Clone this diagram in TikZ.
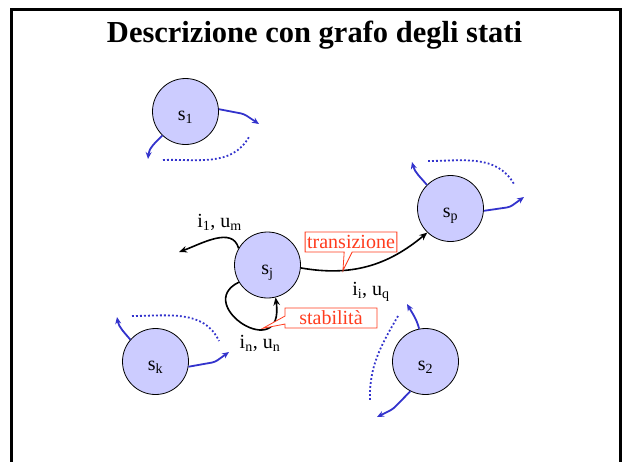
\documentclass[tikz,border=0pt]{standalone}
\usepackage{fontspec}
\setmainfont{Liberation Serif}
\usetikzlibrary{arrows.meta,shapes.callouts}
\definecolor{myblue}{RGB}{51,51,204}
\definecolor{statefill}{RGB}{204,204,255}
\definecolor{myred}{RGB}{255,60,30}
\tikzset{
  state/.style={circle, draw=black, fill=statefill, minimum size=66pt, inner sep=0pt, line width=0.8pt,
    font=\fontsize{20}{24}\selectfont, text height=18pt, text depth=0pt},
  bluearr/.style={draw=myblue, line width=1.8pt, rounded corners=3pt, -{Stealth[length=7pt,width=6pt]}},
  bluedot/.style={draw=myblue, line width=1.8pt, dash pattern=on 1.8pt off 2.2pt},
  blackarr/.style={draw=black, line width=1.6pt, -{Stealth[length=8pt,width=6.5pt]}},
  lbl/.style={font=\fontsize{20}{24}\selectfont, anchor=base, inner sep=0pt},
  callbox/.style={rectangle callout, draw=myred, fill=white, text=myred, line width=0.8pt,
    font=\fontsize{20}{24}\selectfont, inner xsep=2pt, inner ysep=3pt, minimum height=20pt,
    callout pointer width=8pt}
}
\begin{document}
\begin{tikzpicture}[x=1pt,y=1pt]
\useasboundingbox (0,0) rectangle (623,-461);
% frame
\draw[line width=2.7pt] (11.3,-475) -- (11.3,-9.3) -- (620.7,-9.3) -- (620.7,-475);
% title
\node[font=\fontsize{30.5}{36}\selectfont\bfseries, anchor=base, inner sep=0pt] (title) at (314.5,-42) {Descrizione con grafo degli stati};

% states
\node[state] (s1) at (185.5,-111.5) {s\textsubscript{1}};
\node[state] (sp) at (450.5,-208.5) {s\textsubscript{p}};
\node[state] (sj) at (267.5,-265) {s\textsubscript{j}};
\node[state] (sk) at (155.5,-361.5) {s\textsubscript{k}};
\node[state] (s2) at (425.5,-361.5) {s\textsubscript{2}};

% free ends
\coordinate (a1b) at (244,-114);  \coordinate (a1e) at (259,-124);
\coordinate (b1e) at (148,-159);
\coordinate (d1s) at (163,-160);  \coordinate (d1e) at (249,-137);

\coordinate (apb) at (510,-207);  \coordinate (ape) at (524,-197);
\coordinate (bpe) at (412,-162);
\coordinate (dps) at (428,-161);  \coordinate (dpe) at (514,-184);

\coordinate (akb) at (215,-362);  \coordinate (ake) at (229,-352);
\coordinate (bke) at (117,-317);
\coordinate (dks) at (132,-316);  \coordinate (dke) at (219,-341);

\coordinate (a2b) at (393,-409);  \coordinate (a2e) at (377,-417);
\coordinate (b2e) at (407,-304);
\coordinate (d2s) at (398,-316);  \coordinate (d2e) at (370,-402);

\coordinate (ije) at (179,-252);

% blue stubs
\draw[bluearr] (s1.4) -- (a1b) -- (a1e);
\draw[bluearr] (s1.226) to[out=225,in=85] (b1e);
\draw[bluedot] (d1s) to[out=2,in=240] (d1e);

\draw[bluearr] (sp.-4) -- (apb) -- (ape);
\draw[bluearr] (sp.135) to[out=130,in=-75] (bpe);
\draw[bluedot] (dps) to[out=0,in=120] (dpe);

\draw[bluearr] (sk.-9.5) -- (akb) -- (ake);
\draw[bluearr] (sk.139) to[out=130,in=-80] (bke);
\draw[bluedot] (dks) to[out=0,in=115] (dke);

\draw[bluearr] (s2.243) -- (a2b) -- (a2e);
\draw[bluearr] (s2.101) to[out=105,in=-60] (b2e);
\draw[bluedot] (d2s) to[out=240,in=92] (d2e);

% black transitions
\draw[blackarr] (sj.150) to[out=105,in=20] (ije);
\draw[blackarr] (sj.-5) to[out=-10,in=220] coordinate[pos=0.3] (tipT) (sp.226);
\draw[blackarr] (sj.211) .. controls (192,-305) and (285,-365) .. coordinate[pos=0.7] (tipS) (sj.-76);

% labels
\node[lbl] (l1) at (219.5,-227) {i\textsubscript{1}, u\textsubscript{m}};
\node[lbl] (l2) at (371,-295) {i\textsubscript{i}, u\textsubscript{q}};
\node[lbl] (l3) at (260,-348.3) {i\textsubscript{n}, u\textsubscript{n}};

% callouts
\node[callbox, callout absolute pointer={(tipT)}] (ctr) at (351,-242) {transizione};
\node[callbox, minimum width=92pt, callout absolute pointer={(tipS)}] (cst) at (331,-318) {stabilità};
\end{tikzpicture}
\end{document}
